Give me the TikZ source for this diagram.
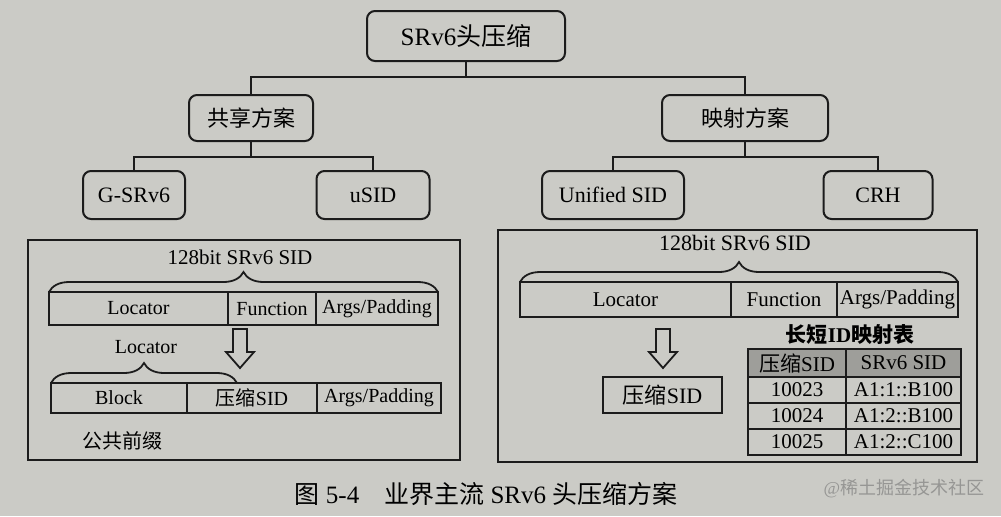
\documentclass[tikz,border=0pt]{standalone}
\usepackage{fontspec}
\setmainfont{Liberation Serif}
\newfontfamily\cjk{Noto Sans CJK SC}
\usetikzlibrary{positioning,decorations.pathreplacing}
\definecolor{paper}{RGB}{203,203,198}
\definecolor{ink}{RGB}{28,28,28}
\definecolor{headgray}{RGB}{158,158,154}
\definecolor{wmark}{RGB}{150,150,148}
\newcommand{\hollowarrow}[1]{%
  \draw[ink, line width=0.9pt, line join=miter] (#1) ++(-7,0) -- ++(0,23) -- ++(-7,0)
    -- ++(14,16) -- ++(14,-16) -- ++(-7,0) -- ++(0,-23) -- cycle;}
\begin{document}
\begin{tikzpicture}[x=0.5pt,y=-0.5pt,
  box/.style={draw=ink, line width=1pt, rounded corners=4pt, inner sep=0pt, font=\fontsize{11}{13}\selectfont},
  tree/.style={draw=ink, line width=1pt},
  panel/.style={draw=ink, line width=1pt},
  cell/.style={draw=ink, line width=0.9pt, inner sep=0pt, outer sep=0pt, font=\fontsize{10}{12}\selectfont},
  lbl/.style={inner sep=0pt, font=\fontsize{10.5}{12}\selectfont},
  brace/.style={draw=ink, line width=0.9pt, decorate, decoration={brace, amplitude=10pt}}]
  \fill[paper] (0,0) rectangle (1001,516);

  \node[box, minimum width=99pt, minimum height=25pt, font=\fontsize{12.5}{14}\selectfont] (root) at (466,36) {SRv6{\cjk 头压缩}};
  \node[box, minimum width=62pt, minimum height=23pt, font=\fontsize{11}{13}\selectfont] (share) at (251,118) {\cjk 共享方案};
  \node[box, minimum width=83pt, minimum height=23pt, font=\fontsize{11}{13}\selectfont] (map) at (745,118) {\cjk 映射方案};
  \node[box, minimum width=51pt, minimum height=24pt] (gsrv6) at (134,195) {G-SRv6};
  \node[box, minimum width=56.5pt, minimum height=24pt] (usid) at (373,195) {uSID};
  \node[box, minimum width=71pt, minimum height=24pt] (unified) at (613,195) {Unified SID};
  \node[box, minimum width=54.5pt, minimum height=24pt] (crh) at (878,195) {CRH};

  \draw[tree] (root.south) -- ++(0,15) -| (share.north);
  \draw[tree] (root.south) -- ++(0,15) -| (map.north);
  \draw[tree] (share.south) -- ++(0,15) -| (gsrv6.north);
  \draw[tree] (share.south) -- ++(0,15) -| (usid.north);
  \draw[tree] (map.south) -- ++(0,15) -| (unified.north);
  \draw[tree] (map.south) -- ++(0,15) -| (crh.north);

  \draw[panel] (28,240) rectangle (460,460);
  \draw[panel] (498,230) rectangle (977,462);

  \node[cell, minimum width=89.5pt, minimum height=16.5pt, anchor=west] (lloc) at (49,308.5) {Locator};
  \node[cell, minimum width=44pt, minimum height=16.5pt, right=0pt of lloc] (lfun) {Function};
  \node[cell, minimum width=61pt, minimum height=16.5pt, right=0pt of lfun] (larg) {Args/Padding};
  \draw[brace] (lloc.north west) -- (larg.north east);
  \node[lbl] (ltitle) at (240,257) {128bit SRv6 SID};
  \hollowarrow{240,329}
  \node[cell, minimum width=68pt, minimum height=15pt, anchor=west] (lblock) at (51,398) {Block};
  \node[cell, minimum width=65pt, minimum height=15pt, right=0pt of lblock] (lcomp) {{\cjk 压缩}SID};
  \node[cell, minimum width=62pt, minimum height=15pt, right=0pt of lcomp] (larg2) {Args/Padding};
  \draw[brace] (lblock.north west) -- ([xshift=25pt]lblock.north east);
  \node[lbl, font=\fontsize{10}{12}\selectfont] (lloc2) at (146,347) {Locator};
  \node[lbl, font=\fontsize{10}{12}\selectfont] (prefix) at (122,441) {\cjk 公共前缀};

  \node[cell, minimum width=105.5pt, minimum height=17.5pt, anchor=west, font=\fontsize{10.5}{12}\selectfont] (rloc) at (520,299.5) {Locator};
  \node[cell, minimum width=53pt, minimum height=17.5pt, right=0pt of rloc, font=\fontsize{10.5}{12}\selectfont] (rfun) {Function};
  \node[cell, minimum width=60.5pt, minimum height=17.5pt, right=0pt of rfun, font=\fontsize{10.5}{12}\selectfont] (rarg) {Args/Padding};
  \draw[brace] (rloc.north west) -- (rarg.north east);
  \node[lbl, font=\fontsize{11}{13}\selectfont] (rtitle) at (735,243) {128bit SRv6 SID};
  \hollowarrow{663,329}
  \node[cell, minimum width=59.5pt, minimum height=18pt, font=\fontsize{11}{13}\selectfont] (rcomp) at (662.5,395) {{\cjk 压缩}SID};

  \node[lbl, font=\fontsize{10.5}{12}\selectfont\bfseries] (maptitle) at (850,335) {{\cjk 长短}ID{\cjk 映射表}};
  \node[cell, fill=headgray, minimum width=49pt, minimum height=14pt, font=\fontsize{10.5}{12}\selectfont] (tha) at (797,363) {{\cjk 压缩}SID};
  \node[cell, fill=headgray, minimum width=57.5pt, minimum height=14pt, font=\fontsize{10.5}{12}\selectfont] (thb) at (903.5,363) {SRv6 SID};
  \foreach \n/\s [count=\i] in {10023/A1:1::B100, 10024/A1:2::B100, 10025/A1:2::C100}{
    \node[cell, minimum width=49pt, minimum height=13pt, font=\fontsize{10.5}{12}\selectfont] (ta\i) at (797,{364+26*\i}) {\n};
    \node[cell, minimum width=57.5pt, minimum height=13pt, font=\fontsize{10.5}{12}\selectfont] (tb\i) at (903.5,{364+26*\i}) {\s};
  }

  \node[lbl, font=\fontsize{12.5}{14}\selectfont] (caption) at (486,494) {{\cjk 图} 5-4\quad{\cjk 业界主流} SRv6 {\cjk 头压缩方案}};
  \node[lbl, font=\fontsize{9}{11}\selectfont, text=wmark] (wm) at (904,489) {@{\cjk 稀土掘金技术社区}};
\end{tikzpicture}
\end{document}
